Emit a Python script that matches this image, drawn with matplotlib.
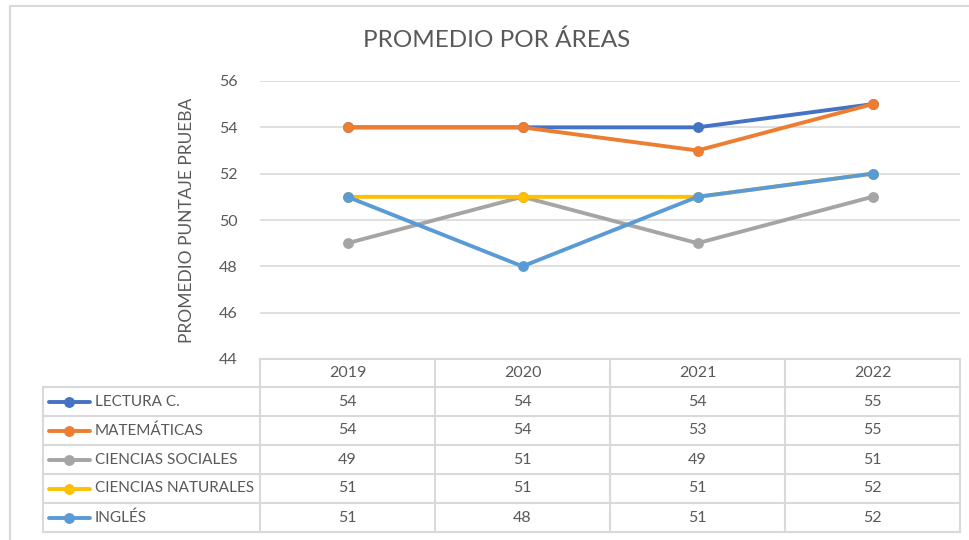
import matplotlib.pyplot as plt
from matplotlib.lines import Line2D

plt.rcParams['font.family'] = ['Lato', 'DejaVu Sans']

years = ["2019", "2020", "2021", "2022"]
areas = ["LECTURA C.", "MATEMÁTICAS", "CIENCIAS SOCIALES", "CIENCIAS NATURALES", "INGLÉS"]
lectura = [54, 54, 54, 55]
matematicas = [54, 54, 53, 55]
sociales = [49, 51, 49, 51]
naturales = [51, 51, 51, 52]
ingles = [51, 48, 51, 52]
series = [lectura, matematicas, sociales, naturales, ingles]
colors = ["#4472C4", "#ED7D31", "#A5A5A5", "#FFC000", "#5B9BD5"]

W, H = 969, 540
txt = "#595959"
grid_c = "#d9d9d9"

fig = plt.figure(figsize=(W / 100, H / 100), dpi=100)

# outer chart border
fig.add_artist(Line2D([10 / W, 10 / W], [0, 1 - 6 / H], color=grid_c, lw=1.5))
fig.add_artist(Line2D([10 / W, 1], [1 - 6 / H, 1 - 6 / H], color=grid_c, lw=1.5))

# plot area
px0, px1, py0, py1 = 260, 960, 81, 359
ax = fig.add_axes([px0 / W, 1 - py1 / H, (px1 - px0) / W, (py1 - py0) / H])
x = list(range(len(years)))
for vals, c in zip(series, colors):
    ax.plot(x, vals, color=c, lw=2.8, marker="o", ms=6.8, solid_capstyle="round")
ax.set_xlim(-0.5, len(years) - 0.5)
ax.set_ylim(44, 56)
ax.set_yticks(range(44, 57, 2))
ax.set_xticks([])
ax.grid(axis="y", color=grid_c, lw=1.2)
ax.set_axisbelow(True)
for s in ax.spines.values():
    s.set_visible(False)
ax.tick_params(axis="y", length=0, labelsize=11.5, labelcolor=txt, pad=16)
ax.set_ylabel("PROMEDIO PUNTAJE PRUEBA", fontsize=12.5, color=txt, labelpad=17)

fig.text(497 / W, 1 - 40 / H, "PROMEDIO POR ÁREAS", ha="center", va="center",
         fontsize=17.5, color=txt)

# data table
tx0 = 43
rows_y = [359, 387, 416, 445, 474, 503, 532]
col_x = [260, 435, 610, 785, 960]
tab = fig.add_axes([0, 0, 1, 1])
tab.set_xlim(0, W)
tab.set_ylim(H, 0)
tab.axis("off")
lc = dict(color=grid_c, lw=1.5)
tab.plot([col_x[0], col_x[-1]], [rows_y[0], rows_y[0]], **lc)
for yy in rows_y[1:]:
    tab.plot([tx0, col_x[-1]], [yy, yy], **lc)
tab.plot([tx0, tx0], [rows_y[1], rows_y[-1]], **lc)
for xx in col_x:
    tab.plot([xx, xx], [rows_y[0], rows_y[-1]], **lc)

for j, yr in enumerate(years):
    cx = (col_x[j] + col_x[j + 1]) / 2
    tab.text(cx, (rows_y[0] + rows_y[1]) / 2, yr, ha="center", va="center",
             fontsize=11.5, color=txt)

for i, (name, vals, c) in enumerate(zip(areas, series, colors)):
    cy = (rows_y[i + 1] + rows_y[i + 2]) / 2
    tab.plot([49, 90], [cy, cy], color=c, lw=2.8, solid_capstyle="round")
    tab.plot([69.5], [cy], marker="o", ms=6.8, color=c)
    tab.text(95, cy, name, ha="left", va="center", fontsize=11, color=txt)
    for j, v in enumerate(vals):
        cx = (col_x[j] + col_x[j + 1]) / 2
        tab.text(cx, cy, str(v), ha="center", va="center", fontsize=11.5, color=txt)

fig.savefig("out.png", dpi=100)
